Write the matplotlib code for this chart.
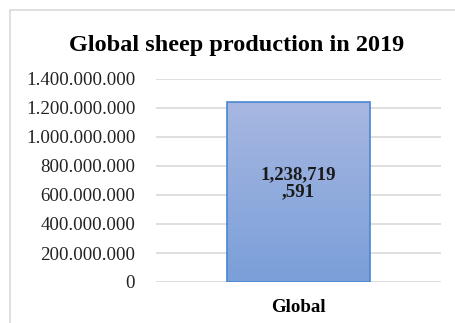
import matplotlib
matplotlib.use("Agg")
import matplotlib.pyplot as plt
import numpy as np
from matplotlib.patches import Rectangle
from matplotlib.colors import LinearSegmentedColormap

categories = ["Global"]
values = [1238719591]
value_labels = ["1,238,719\n,591"]
yticks = [0, 200000000, 400000000, 600000000, 800000000, 1000000000, 1200000000, 1400000000]
title = "Global sheep production in 2019"

plt.rcParams['font.family'] = ['Liberation Serif', 'DejaVu Serif']

fig = plt.figure(figsize=(4.55, 3.23), dpi=100)
W, H = 455, 323
# outer chart frame
fig.patches.append(Rectangle((10 / W, -0.1), 1.2, 1 - 10 / H + 0.1, transform=fig.transFigure,
                             fill=False, edgecolor='#d9d9d9', linewidth=1.2))

ax = fig.add_axes([156 / W, 1 - 282 / H, (441 - 156) / W, (282 - 79) / H])
ax.set_xlim(-0.5, 0.5)
ax.set_ylim(0, 1.4e9)
ax.set_yticks(yticks)
ax.set_yticklabels([f"{v:,}".replace(",", ".") if v else "0" for v in yticks], fontsize=13.6, color='#222222')
ax.set_xticks(range(len(categories)))
ax.set_xticklabels(categories, fontsize=13.6, fontweight='bold')
ax.tick_params(length=0, pad=15, axis='y')
ax.tick_params(length=0, pad=12, axis='x')
for s in ax.spines.values():
    s.set_visible(False)
ax.grid(axis='y', color='#d9d9d9', linewidth=1.2)
ax.set_axisbelow(True)

bars = ax.bar(range(len(categories)), values, width=0.5, color='none', edgecolor='#4a86d0', linewidth=1.2, zorder=3)
grad = np.linspace(0, 1, 256).reshape(-1, 1)
cmap = LinearSegmentedColormap.from_list('g', ['#a7b7e1', '#7a9fd9'])
for b, lab in zip(bars, value_labels):
    x0, w, h = b.get_x(), b.get_width(), b.get_height()
    ax.imshow(grad, extent=(x0, x0 + w, 0, h), aspect='auto', cmap=cmap, origin='upper', zorder=2)
    ax.text(x0 + w / 2, h * 0.55, lab, ha='center', va='center', fontsize=13.6, fontweight='bold',
            color='#1a1a1a', linespacing=1.05, zorder=4)
ax.set_xlim(-0.5, 0.5)
ax.set_ylim(0, 1.4e9)

fig.text(236.5 / W, 1 - 45 / H, title, ha='center', va='center', fontsize=17.5, fontweight='bold')

fig.savefig("out.png", dpi=100)
